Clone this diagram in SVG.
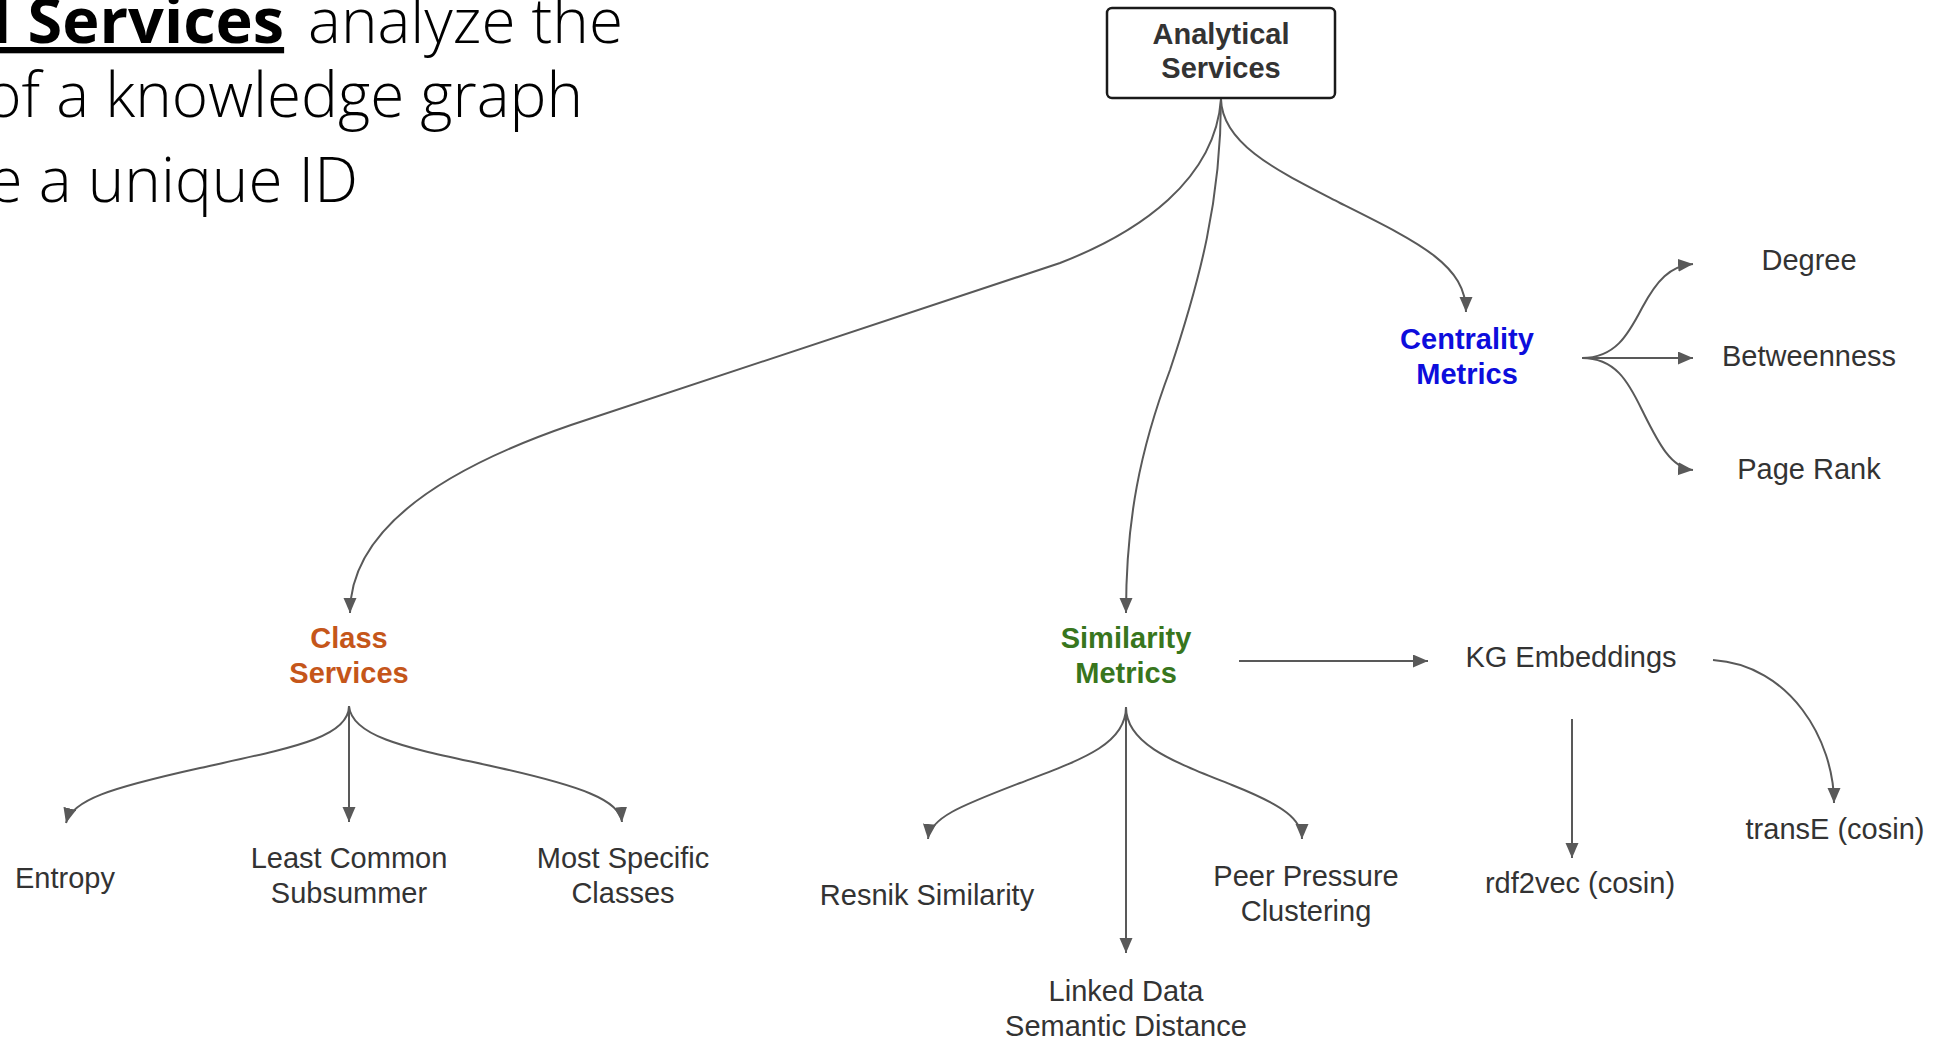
<svg xmlns="http://www.w3.org/2000/svg" width="1945" height="1041" viewBox="0 0 1945 1041">
  <style>
    .lbl { font-family: "Liberation Sans", Arial, sans-serif; font-size: 29px; fill: #333333; text-anchor: middle; }
    .ttl { font-family: "Liberation Sans", Arial, sans-serif; font-size: 29px; font-weight: bold; text-anchor: middle; }
    .edge { fill: none; stroke: #595959; stroke-width: 2; }
    .intro { font-family: "Open Sans", sans-serif; font-size: 62px; font-weight: 300; fill: #000000; text-anchor: end; }
    .intro-bold { font-family: "Open Sans", sans-serif; font-size: 63px; font-weight: bold; fill: #000000; text-anchor: start; text-decoration: underline; }
  </style>
  <defs>
    <marker id="arrow" markerUnits="userSpaceOnUse" markerWidth="16" markerHeight="14" refX="15" refY="6.5" orient="auto">
      <path d="M0,0 L15,6.5 L0,13 z" fill="#595959"/>
    </marker>
  </defs>
  <rect width="1945" height="1041" fill="#ffffff"/>

  <!-- slide text (runs off the left edge) -->
  <g id="intro-text">
    <text class="intro-bold" x="-8" y="43">l Services</text>
    <text class="intro" x="623" y="43">analyze the</text>
    <text class="intro" x="583" y="117">of a knowledge graph</text>
    <text class="intro" x="358" y="202">e a unique ID</text>
  </g>

  <!-- connectors -->
  <g id="connectors">
    <!-- root to the three service groups -->
    <path class="edge" marker-end="url(#arrow)" d="M1221,99 C1215,180 1140,232 1060,263 L571,425 C420,477 350,540 350,613"/>
    <path class="edge" marker-end="url(#arrow)" d="M1221,99 C1221,200 1200,280 1170,370 C1140,450 1126,520 1126,613"/>
    <path class="edge" marker-end="url(#arrow)" d="M1221,99 C1222,145 1280,172 1340,203 C1420,243 1466,265 1466,312"/>
    <!-- centrality fan -->
    <path class="edge" marker-end="url(#arrow)" d="M1582,358 C1615,358 1628,335 1642,308 C1657,280 1670,266 1693,264"/>
    <path class="edge" marker-end="url(#arrow)" d="M1582,358 L1693,358"/>
    <path class="edge" marker-end="url(#arrow)" d="M1582,358 C1615,358 1628,381 1642,410 C1657,440 1670,468 1693,470"/>
    <!-- class services fan -->
    <path class="edge" marker-end="url(#arrow)" d="M349,706 C349,738 290,748 200,768 C110,788 72,800 66,823"/>
    <path class="edge" marker-end="url(#arrow)" d="M349,706 L349,822"/>
    <path class="edge" marker-end="url(#arrow)" d="M349,706 C352,740 420,750 500,768 C580,786 620,800 622,822"/>
    <!-- similarity fan -->
    <path class="edge" marker-end="url(#arrow)" d="M1126,707 C1126,745 1080,760 1020,783 C960,806 930,818 928,839"/>
    <path class="edge" marker-end="url(#arrow)" d="M1126,707 L1126,953"/>
    <path class="edge" marker-end="url(#arrow)" d="M1126,707 C1126,745 1175,762 1232,785 C1285,806 1302,820 1302,839"/>
    <path class="edge" marker-end="url(#arrow)" d="M1239,661 L1428,661"/>
    <!-- embeddings -->
    <path class="edge" marker-end="url(#arrow)" d="M1572,719 L1572,858"/>
    <path class="edge" marker-end="url(#arrow)" d="M1713,660 C1790,665 1834,740 1834,803"/>
  </g>

  <g id="analytical-services">
    <rect x="1107" y="8" width="228" height="90" rx="5" fill="#ffffff" stroke="#1a1a1a" stroke-width="2.5"/>
    <text class="ttl" x="1221" y="44" fill="#333333">Analytical</text>
    <text class="ttl" x="1221" y="78" fill="#333333">Services</text>
  </g>

  <g id="centrality-metrics">
    <text class="ttl" x="1467" y="349" fill="#0d0ddc">Centrality</text>
    <text class="ttl" x="1467" y="384" fill="#0d0ddc">Metrics</text>
  </g>
  <g id="degree"><text class="lbl" x="1809" y="270">Degree</text></g>
  <g id="betweenness"><text class="lbl" x="1809" y="366">Betweenness</text></g>
  <g id="page-rank"><text class="lbl" x="1809" y="479">Page Rank</text></g>

  <g id="class-services">
    <text class="ttl" x="349" y="648" fill="#c5561a">Class</text>
    <text class="ttl" x="349" y="683" fill="#c5561a">Services</text>
  </g>
  <g id="entropy"><text class="lbl" x="65" y="888">Entropy</text></g>
  <g id="least-common-subsummer">
    <text class="lbl" x="349" y="868">Least Common</text>
    <text class="lbl" x="349" y="903">Subsummer</text>
  </g>
  <g id="most-specific-classes">
    <text class="lbl" x="623" y="868">Most Specific</text>
    <text class="lbl" x="623" y="903">Classes</text>
  </g>

  <g id="similarity-metrics">
    <text class="ttl" x="1126" y="648" fill="#38761d">Similarity</text>
    <text class="ttl" x="1126" y="683" fill="#38761d">Metrics</text>
  </g>
  <g id="resnik-similarity"><text class="lbl" x="927" y="905">Resnik Similarity</text></g>
  <g id="linked-data-semantic-distance">
    <text class="lbl" x="1126" y="1001">Linked Data</text>
    <text class="lbl" x="1126" y="1036">Semantic Distance</text>
  </g>
  <g id="peer-pressure-clustering">
    <text class="lbl" x="1306" y="886">Peer Pressure</text>
    <text class="lbl" x="1306" y="921">Clustering</text>
  </g>

  <g id="kg-embeddings"><text class="lbl" x="1571" y="667">KG Embeddings</text></g>
  <g id="rdf2vec"><text class="lbl" x="1580" y="893">rdf2vec (cosin)</text></g>
  <g id="transe"><text class="lbl" x="1835" y="839">transE (cosin)</text></g>
</svg>
